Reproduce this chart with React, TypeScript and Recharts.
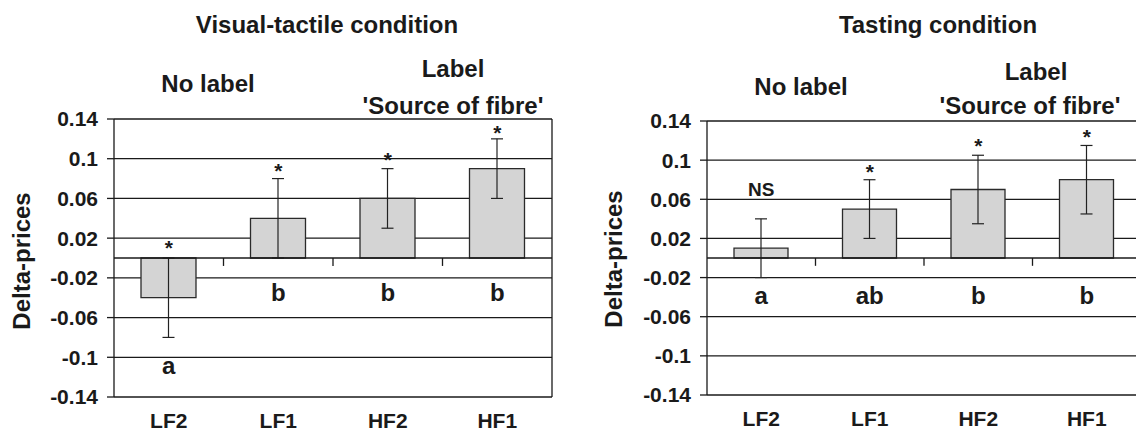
import {
  Bar,
  CartesianGrid,
  ComposedChart,
  ErrorBar,
  Line,
  ReferenceLine,
  XAxis,
  YAxis,
} from "recharts";

const categories = ["LF2", "LF1", "HF2", "HF1"];
const yTicks = [0.14, 0.1, 0.06, 0.02, -0.02, -0.06, -0.1, -0.14];

// visual-tactile condition
const tactileMeans = [-0.04, 0.04, 0.06, 0.09];
const tactileErrors = [0.04, 0.04, 0.03, 0.03];
const tactileMarks = ["*", "*", "*", "*"];
const tactileMarkAt = [0.003, 0.081, 0.092, 0.119];
const tactileLetters = ["a", "b", "b", "b"];
const tactileLetterAt = [-0.117, -0.043, -0.043, -0.043];

// tasting condition
const tastingMeans = [0.01, 0.05, 0.07, 0.08];
const tastingErrors = [0.03, 0.03, 0.035, 0.035];
const tastingMarks = ["NS", "*", "*", "*"];
const tastingMarkAt = [0.063, 0.081, 0.107, 0.116];
const tastingLetters = ["a", "ab", "b", "b"];
const tastingLetterAt = [-0.047, -0.047, -0.047, -0.047];

const FONT = '"Liberation Sans", Arial, sans-serif';
const INK = "#1a1a1a";

function buildRows(
  means: number[],
  errors: number[],
  marks: string[],
  markAt: number[],
  letters: string[],
  letterAt: number[]
) {
  return categories.map((cat, i) => ({
    cat,
    mean: means[i],
    err: errors[i],
    mark: marks[i],
    markAt: markAt[i],
    letter: letters[i],
    letterAt: letterAt[i],
  }));
}

function textDot(field: "mark" | "letter", size: number) {
  return (p: any) => {
    const key = `${field}-${p.index}`;
    if (p.cx == null || p.cy == null) return <g key={key} />;
    const txt = p.payload[field];
    return (
      <text
        key={key}
        x={p.cx}
        y={p.cy}
        textAnchor="middle"
        fontFamily={FONT}
        fontWeight="bold"
        fontSize={txt === "NS" ? 19 : size}
        fill={INK}
      >
        {txt}
      </text>
    );
  };
}

type PanelProps = {
  left: number;
  width: number;
  top: number;
  right: number;
  axisHeight: number;
  axisWidth: number;
  barSize: number;
  rows: ReturnType<typeof buildRows>;
};

function Panel({ left, width, top, right, axisHeight, axisWidth, barSize, rows }: PanelProps) {
  return (
    <div style={{ position: "absolute", left, top: 0 }}>
      <ComposedChart
        width={width}
        height={437}
        data={rows}
        margin={{ top, right, bottom: 0, left: 0 }}
      >
        <CartesianGrid vertical={false} stroke={INK} strokeWidth={1.3} />
        <XAxis
          dataKey="cat"
          height={axisHeight}
          axisLine={false}
          tickLine={false}
          tickMargin={10}
          interval={0}
          tick={{ fill: INK, fontSize: 21, fontWeight: "bold", fontFamily: FONT }}
        />
        <YAxis
          type="number"
          domain={[-0.14, 0.14]}
          ticks={yTicks}
          width={axisWidth}
          interval={0}
          axisLine={{ stroke: INK, strokeWidth: 1.3 }}
          tickLine={{ stroke: INK, strokeWidth: 1.3 }}
          tickSize={7}
          tickMargin={9}
          tick={{ fill: INK, fontSize: 21, fontWeight: "bold", fontFamily: FONT }}
        />
        <Bar
          dataKey="mean"
          fill="#d4d4d4"
          stroke="#2a2a2a"
          strokeWidth={1.3}
          barSize={barSize}
          isAnimationActive={false}
        >
          <ErrorBar dataKey="err" width={6} stroke="#222" strokeWidth={1.2} direction="y" />
        </Bar>
        <ReferenceLine y={0} stroke={INK} strokeWidth={1.3} />
        {categories.slice(0, 3).map((c) => (
          <ReferenceLine
            key={c}
            segment={[
              { x: c, y: 0 },
              { x: c, y: -0.008 },
            ]}
            position="end"
            stroke={INK}
            strokeWidth={1.3}
          />
        ))}
        <ReferenceLine x="HF1" position="end" stroke={INK} strokeWidth={1.3} />
        <Line
          dataKey="markAt"
          stroke="none"
          dot={textDot("mark", 21)}
          activeDot={false}
          legendType="none"
          isAnimationActive={false}
        />
        <Line
          dataKey="letterAt"
          stroke="none"
          dot={textDot("letter", 24)}
          activeDot={false}
          legendType="none"
          isAnimationActive={false}
        />
      </ComposedChart>
    </div>
  );
}

const headStyle = { fontFamily: FONT, fontWeight: "bold", fill: INK, fontSize: 24 } as const;

export default function App() {
  const tactileRows = buildRows(
    tactileMeans,
    tactileErrors,
    tactileMarks,
    tactileMarkAt,
    tactileLetters,
    tactileLetterAt
  );
  const tastingRows = buildRows(
    tastingMeans,
    tastingErrors,
    tastingMarks,
    tastingMarkAt,
    tastingLetters,
    tastingLetterAt
  );

  return (
    <div
      style={{
        position: "absolute",
        left: 0,
        top: 0,
        width: 1136,
        height: 437,
        overflow: "hidden",
        background: "#fff",
      }}
    >
      <Panel
        left={0}
        width={560}
        top={119}
        right={8}
        axisHeight={40}
        axisWidth={114}
        barSize={55}
        rows={tactileRows}
      />
      <Panel
        left={600}
        width={550}
        top={121}
        right={9}
        axisHeight={42}
        axisWidth={107}
        barSize={54}
        rows={tastingRows}
      />
      <svg
        width={1136}
        height={437}
        style={{ position: "absolute", left: 0, top: 0, pointerEvents: "none" }}
      >
        <text x={327} y={33} textAnchor="middle" {...headStyle}>
          Visual-tactile condition
        </text>
        <text x={208} y={92} textAnchor="middle" {...headStyle}>
          No label
        </text>
        <text x={453} y={77} textAnchor="middle" {...headStyle}>
          Label
        </text>
        <text x={453} y={114} textAnchor="middle" {...headStyle}>
          'Source of fibre'
        </text>
        <text x={0} y={0} transform="translate(30 261) rotate(-90)" textAnchor="middle" {...headStyle}>
          Delta-prices
        </text>

        <text x={938} y={33} textAnchor="middle" {...headStyle}>
          Tasting condition
        </text>
        <text x={801} y={95} textAnchor="middle" {...headStyle}>
          No label
        </text>
        <text x={1036} y={80} textAnchor="middle" {...headStyle}>
          Label
        </text>
        <text x={1030} y={114} textAnchor="middle" {...headStyle}>
          'Source of fibre'
        </text>
        <text x={0} y={0} transform="translate(622 259) rotate(-90)" textAnchor="middle" {...headStyle}>
          Delta-prices
        </text>
      </svg>
    </div>
  );
}
